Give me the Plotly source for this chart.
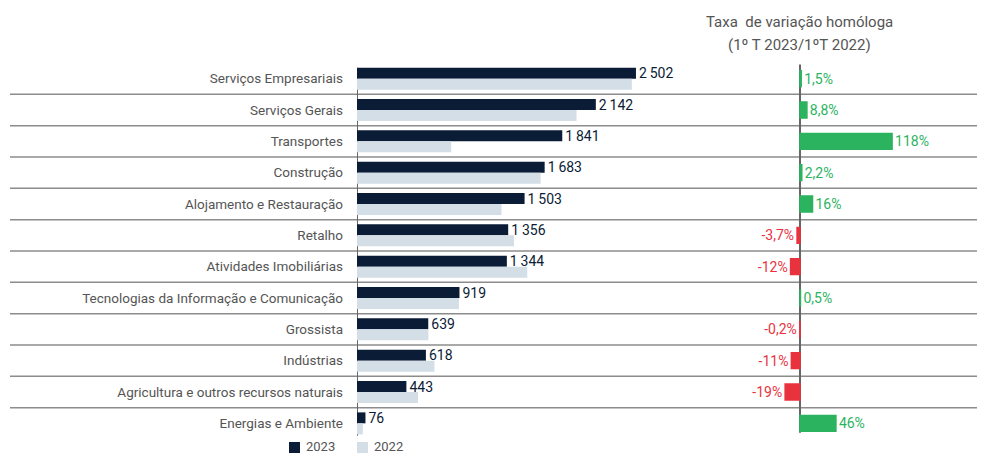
import plotly.graph_objects as go

categories = ["Serviços Empresariais", "Serviços Gerais", "Transportes", "Construção",
              "Alojamento e Restauração", "Retalho", "Atividades Imobiliárias",
              "Tecnologias da Informação e Comunicação", "Grossista", "Indústrias",
              "Agricultura e outros recursos naturais", "Energias e Ambiente"]
v2023 = [2502, 2142, 1841, 1683, 1503, 1356, 1344, 919, 639, 618, 443, 76]
v2022 = [2465, 1969, 845, 1647, 1296, 1408, 1527, 914, 640, 694, 547, 52]
var_pct = [1.5, 8.8, 118, 2.2, 16, -3.7, -12, 0.5, -0.2, -11, -19, 46]
series_names = ["2023", "2022"]

NAVY = "#0b1c36"
LIGHT = "#d3dee7"
GREEN = "#2bb35f"
RED = "#e8333f"
GREY = "#555555"
FONT = "Roboto"

# page body margin offset (8px) compensation
OFF = 8
W, H = 985 - OFF, 455 - OFF

def px_x(p):
    return (p - OFF) / W

def px_y(p):
    return 1 - (p - OFF) / H

def fmt_num(v):
    return f"{v:,}".replace(",", "\u2009")

def fmt_pct(v):
    if abs(v) >= 10:
        s = f"{v:.0f}"
    else:
        s = f"{v:.1f}".replace(".", ",")
    return s + "%"

pct_colors = [GREEN if v >= 0 else RED for v in var_pct]

fig = go.Figure()

fig.add_trace(go.Bar(
    y=categories, x=v2023, orientation="h", name=series_names[0],
    marker=dict(color=NAVY, line=dict(width=0)),
    text=[fmt_num(v) for v in v2023], textposition="outside", constraintext="none",
    textfont=dict(color=NAVY, size=14, family=FONT),
    cliponaxis=False, xaxis="x", yaxis="y", hoverinfo="skip", showlegend=False,
))
fig.add_trace(go.Bar(
    y=categories, x=v2022, orientation="h", name=series_names[1],
    marker=dict(color=LIGHT, line=dict(width=0)),
    xaxis="x", yaxis="y", hoverinfo="skip", showlegend=False,
))
fig.add_trace(go.Bar(
    y=categories, x=var_pct, orientation="h", showlegend=False,
    marker=dict(color=pct_colors, line=dict(width=1.6, color=pct_colors)),
    width=0.5,
    text=[fmt_pct(v) for v in var_pct], textposition="outside", constraintext="none",
    textfont=dict(color=pct_colors, size=14, family=FONT),
    cliponaxis=False, xaxis="x2", yaxis="y2", hoverinfo="skip",
))

# geometry (target page pixels)
x1_left, x1_right = 357, 690
scale1 = 0.1115  # px per unit
x2_left, x2_right, zero2 = 740, 985, 800
scale2 = 0.78  # px per %
row_top, row_bot = 63, 439

ydom = [px_y(row_bot), px_y(row_top)]

fig.update_layout(
    width=W, height=H,
    margin=dict(l=0, r=0, t=0, b=0, autoexpand=False),
    paper_bgcolor="white", plot_bgcolor="rgba(0,0,0,0)",
    barmode="group", bargap=0.3, bargroupgap=0,
    font=dict(family=FONT, color=GREY, size=13),
    xaxis=dict(domain=[px_x(x1_left), px_x(x1_right)],
               range=[0, (x1_right - x1_left) / scale1],
               visible=False, fixedrange=True),
    yaxis=dict(domain=ydom, anchor="x", type="category",
               categoryorder="array", categoryarray=categories,
               range=[len(categories) - 0.5, -0.5],
               showgrid=False, zeroline=False, showline=False,
               ticks="", ticklabelstandoff=13, automargin=False,
               tickfont=dict(size=13.5, color=GREY, family=FONT)),
    xaxis2=dict(domain=[px_x(x2_left), px_x(x2_right)],
                range=[-(zero2 - x2_left) / scale2, (x2_right - zero2) / scale2],
                visible=False, fixedrange=True),
    yaxis2=dict(domain=ydom, anchor="x2", type="category",
                categoryorder="array", categoryarray=categories,
                range=[len(categories) - 0.5, -0.5], visible=False),
    showlegend=False,
)

shapes = []
for i in range(len(categories) - 1):
    shapes.append(dict(type="line", xref="paper", yref="y", x0=px_x(10), x1=1,
                       y0=i + 0.5, y1=i + 0.5, layer="below",
                       line=dict(color="#8c8c8c", width=1.5)))
shapes.append(dict(type="line", xref="x", yref="y", x0=0, x1=0, y0=-0.35, y1=11.4,
                   layer="below", line=dict(color="#666666", width=2)))
shapes.append(dict(type="line", xref="x2", yref="y2", x0=0, x1=0, y0=-0.45, y1=11.3,
                   layer="below", line=dict(color="#666666", width=2)))

# manual legend
legend_items = [(series_names[0], NAVY, 289), (series_names[1], LIGHT, 357)]
for name, col, lx in legend_items:
    shapes.append(dict(type="rect", xref="paper", yref="paper",
                       x0=px_x(lx), x1=px_x(lx + 11), y0=px_y(453), y1=px_y(442),
                       fillcolor=col, line=dict(width=0)))
    fig.add_annotation(x=px_x(lx + 15), y=px_y(446.5), xref="paper", yref="paper",
                       text=name, showarrow=False, xanchor="left", yanchor="middle",
                       font=dict(size=13, color=GREY, family=FONT))
fig.update_layout(shapes=shapes)

fig.add_annotation(x=px_x(799), y=px_y(22), xref="paper", yref="paper",
                   text="Taxa  de variação homóloga", showarrow=False,
                   font=dict(size=15, color=GREY, family=FONT), xanchor="center", yanchor="middle")
fig.add_annotation(x=px_x(799), y=px_y(45), xref="paper", yref="paper",
                   text="(1º T 2023/1ºT 2022)", showarrow=False,
                   font=dict(size=15, color=GREY, family=FONT), xanchor="center", yanchor="middle")

fig.write_html("out.html")
